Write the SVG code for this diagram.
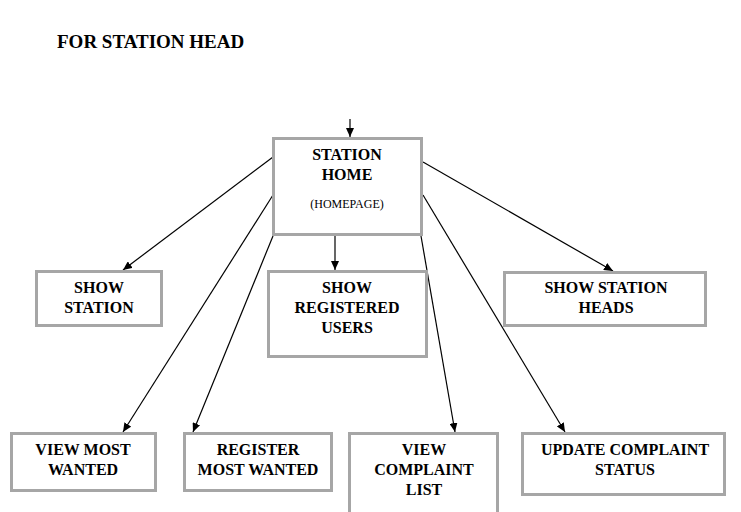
<svg xmlns="http://www.w3.org/2000/svg" width="741" height="512" viewBox="0 0 741 512">
<defs>
<marker id="ah" markerUnits="userSpaceOnUse" markerWidth="10" markerHeight="8" refX="9" refY="4" orient="auto">
<path d="M0,0 L9,4 L0,8 Z" fill="#000"/>
</marker>
<style>
.box{fill:#fff;stroke:#a6a6a6;stroke-width:3}
.t{font-family:"Liberation Serif",Tinos,"Times New Roman","DejaVu Serif",serif;font-weight:bold;font-size:16px;fill:#000;text-anchor:middle}
.s{font-family:"Liberation Serif",Tinos,"Times New Roman","DejaVu Serif",serif;font-size:12px;fill:#000;text-anchor:middle}
.h{font-family:"Liberation Serif",Tinos,"Times New Roman","DejaVu Serif",serif;font-weight:bold;font-size:19px;fill:#000}
.c{stroke:#000;stroke-width:1.2;fill:none;marker-end:url(#ah)}
</style>
</defs>
<rect width="741" height="512" fill="#fff"/>
<text class="h" x="57" y="48">FOR STATION HEAD</text>
<g id="connectors">
<line class="c" x1="350" y1="119" x2="350" y2="137"/>
<line class="c" x1="273" y1="157" x2="123" y2="270"/>
<line class="c" x1="335" y1="236" x2="335" y2="270"/>
<line class="c" x1="423" y1="162" x2="613" y2="271"/>
<line class="c" x1="273" y1="195" x2="123" y2="432"/>
<line class="c" x1="273" y1="236" x2="193" y2="432"/>
<line class="c" x1="421" y1="236" x2="455" y2="432"/>
<line class="c" x1="423" y1="195" x2="565" y2="432"/>
</g>
<g id="station-home">
<rect class="box" x="273.5" y="138.5" width="148" height="96"/>
<text class="t" x="347" y="160">STATION</text>
<text class="t" x="347" y="180">HOME</text>
<text class="s" x="347" y="208">(HOMEPAGE)</text>
</g>
<g id="show-station">
<rect class="box" x="36.5" y="271.5" width="125" height="54"/>
<text class="t" x="99" y="293">SHOW</text>
<text class="t" x="99" y="313">STATION</text>
</g>
<g id="show-registered-users">
<rect class="box" x="268.5" y="271.5" width="158" height="85"/>
<text class="t" x="347" y="293">SHOW</text>
<text class="t" x="347" y="313">REGISTERED</text>
<text class="t" x="347" y="333">USERS</text>
</g>
<g id="show-station-heads">
<rect class="box" x="504.5" y="272.5" width="201" height="53"/>
<text class="t" x="606" y="293">SHOW STATION</text>
<text class="t" x="606" y="313">HEADS</text>
</g>
<g id="view-most-wanted">
<rect class="box" x="11.5" y="433.5" width="144" height="57"/>
<text class="t" x="83" y="455">VIEW MOST</text>
<text class="t" x="83" y="475">WANTED</text>
</g>
<g id="register-most-wanted">
<rect class="box" x="184.5" y="433.5" width="147" height="57"/>
<text class="t" x="258" y="455">REGISTER</text>
<text class="t" x="258" y="475">MOST WANTED</text>
</g>
<g id="view-complaint-list">
<rect class="box" x="349.5" y="433.5" width="148" height="90"/>
<text class="t" x="424" y="455">VIEW</text>
<text class="t" x="424" y="475">COMPLAINT</text>
<text class="t" x="424" y="495">LIST</text>
</g>
<g id="update-complaint-status">
<rect class="box" x="522.5" y="433.5" width="202" height="61"/>
<text class="t" x="625" y="455">UPDATE COMPLAINT</text>
<text class="t" x="625" y="475">STATUS</text>
</g>
</svg>
